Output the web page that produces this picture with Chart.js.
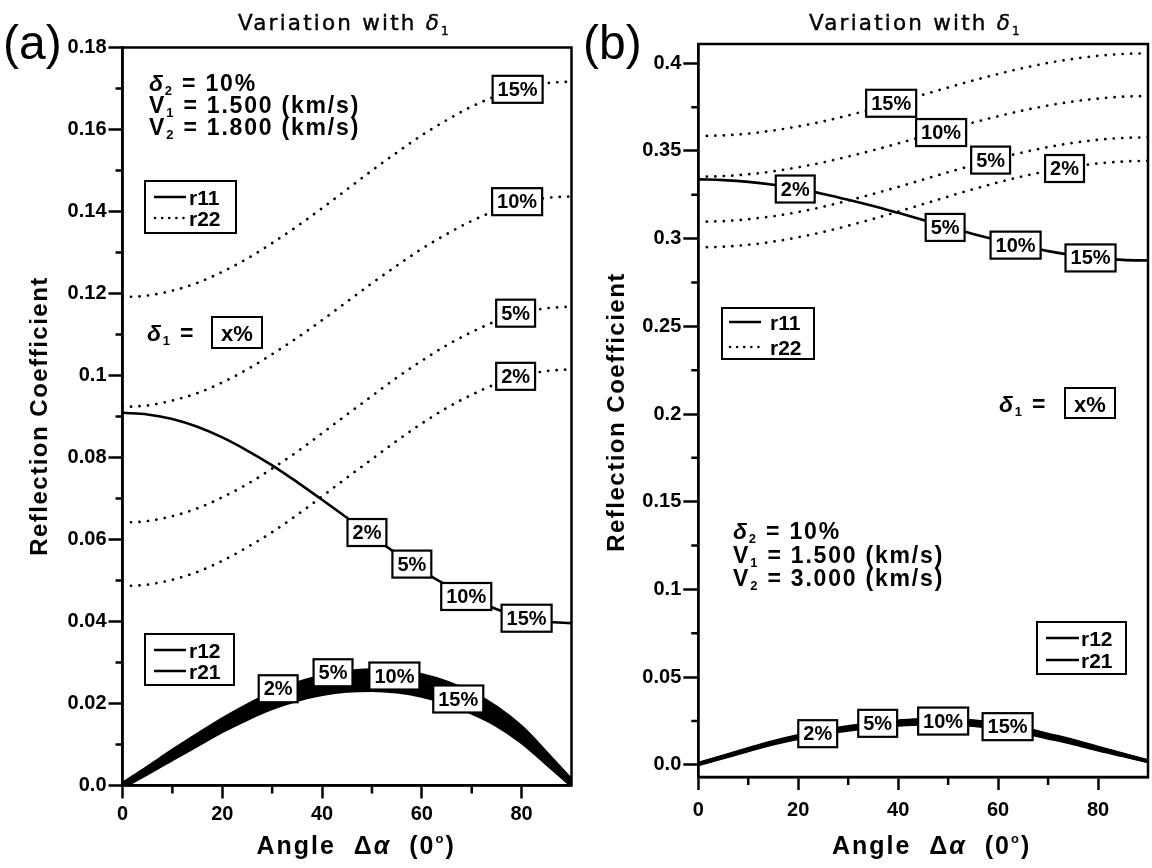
<!DOCTYPE html>
<html><head><meta charset="utf-8">
<script src="https://cdn.jsdelivr.net/npm/chart.js@4.4.0/dist/chart.umd.min.js"></script>
<style>
html,body{margin:0;padding:0;background:#fff;}
#wrap{position:relative;width:1152px;height:868px;overflow:hidden;}
canvas{position:absolute;top:0;}
#ca{left:0;} #cb{left:580px;}
#ov{position:absolute;left:0;top:0;pointer-events:none;font-family:"Liberation Sans",Arial,sans-serif;}
</style></head><body>
<div id="wrap">
<canvas id="ca" width="580" height="868" style="width:580px;height:868px"></canvas>
<canvas id="cb" width="572" height="868" style="width:572px;height:868px"></canvas>
<svg id="ov" width="1152" height="868" xmlns="http://www.w3.org/2000/svg">
 <g fill="#000">
  <!-- panel letters -->
  <text x="3" y="59" font-size="48">(a)</text>
  <text x="583" y="59" font-size="48">(b)</text>
  <!-- titles -->
  <g font-family="'DejaVu Sans', 'Liberation Sans', Arial, sans-serif" font-size="21.5" letter-spacing="2.2" stroke="#000" stroke-width="0.4">
   <text x="238" y="30">Variation with <tspan font-style="italic">δ</tspan><tspan font-size="12" dy="5">1</tspan></text>
   <text x="809" y="30">Variation with <tspan font-style="italic">δ</tspan><tspan font-size="12" dy="5">1</tspan></text>
  </g>
  <!-- y titles -->
  <text transform="translate(47,416) rotate(-90)" text-anchor="middle" font-size="24" font-weight="bold" letter-spacing="1.5">Reflection Coefficient</text>
  <text transform="translate(623.5,412) rotate(-90)" text-anchor="middle" font-size="24" font-weight="bold" letter-spacing="1.5">Reflection Coefficient</text>
  <!-- x titles -->
  <text x="256.5" y="854" font-size="25" font-weight="bold" letter-spacing="2" xml:space="preserve">Angle  Δ<tspan font-style="italic">α</tspan>  (0<tspan font-size="13" dy="-11">o</tspan><tspan dy="11">)</tspan></text>
  <text x="832" y="854" font-size="25" font-weight="bold" letter-spacing="2" xml:space="preserve">Angle  Δ<tspan font-style="italic">α</tspan>  (0<tspan font-size="13" dy="-11">o</tspan><tspan dy="11">)</tspan></text>
  <!-- parameters -->
  <g font-size="23" font-weight="bold" letter-spacing="1.8" xml:space="preserve">
   <text x="149" y="91"><tspan font-style="italic">δ</tspan><tspan font-size="13" dy="4">2</tspan><tspan dy="-4">  =  10%</tspan></text>
   <text x="149" y="113">V<tspan font-size="13" dy="4">1</tspan><tspan dy="-4">  =  1.500  (km/s)</tspan></text>
   <text x="149" y="135">V<tspan font-size="13" dy="4">2</tspan><tspan dy="-4">  =  1.800  (km/s)</tspan></text>
   <text x="733" y="539"><tspan font-style="italic">δ</tspan><tspan font-size="13" dy="4">2</tspan><tspan dy="-4">  =  10%</tspan></text>
   <text x="733" y="563">V<tspan font-size="13" dy="4">1</tspan><tspan dy="-4">  =  1.500  (km/s)</tspan></text>
   <text x="733" y="586">V<tspan font-size="13" dy="4">2</tspan><tspan dy="-4">  =  3.000  (km/s)</tspan></text>
   <text x="147" y="341"><tspan font-style="italic">δ</tspan><tspan font-size="13" dy="4">1</tspan><tspan dy="-4">  =</tspan></text>
   <text x="999" y="412"><tspan font-style="italic">δ</tspan><tspan font-size="13" dy="4">1</tspan><tspan dy="-4">  =</tspan></text>
  </g>
  <rect x="212" y="317" width="50" height="31" fill="#fff" stroke="#000" stroke-width="2"/>
  <text x="237" y="340.5" font-size="22" font-weight="bold" text-anchor="middle">x%</text>
  <rect x="1065" y="388" width="50" height="30" fill="#fff" stroke="#000" stroke-width="2"/>
  <text x="1090" y="411.5" font-size="22" font-weight="bold" text-anchor="middle">x%</text>
  <!-- legends -->
  <g font-size="21" font-weight="bold">
   <rect x="145" y="181" width="91" height="52" fill="#fff" stroke="#000" stroke-width="2"/>
   <line x1="154" y1="197" x2="186" y2="197" stroke="#000" stroke-width="2.5"/>
   <line x1="155" y1="218" x2="186" y2="218" stroke="#000" stroke-width="2.5" stroke-dasharray="0.1 7" stroke-linecap="round"/>
   <text x="189" y="204.5">r11</text><text x="189" y="225.5">r22</text>

   <rect x="145" y="634" width="89" height="51" fill="#fff" stroke="#000" stroke-width="2"/>
   <line x1="154" y1="650" x2="186" y2="650" stroke="#000" stroke-width="2.5"/>
   <line x1="154" y1="671" x2="186" y2="671" stroke="#000" stroke-width="2.5"/>
   <text x="189" y="657.5">r12</text><text x="189" y="678.5">r21</text>

   <rect x="722" y="308" width="92" height="51" fill="#fff" stroke="#000" stroke-width="2"/>
   <line x1="729" y1="322" x2="761" y2="322" stroke="#000" stroke-width="2.5"/>
   <line x1="730" y1="347" x2="761" y2="347" stroke="#000" stroke-width="2.5" stroke-dasharray="0.1 7" stroke-linecap="round"/>
   <text x="770" y="329.5">r11</text><text x="770" y="354.5">r22</text>

   <rect x="1037" y="622" width="89" height="52" fill="#fff" stroke="#000" stroke-width="2"/>
   <line x1="1046" y1="638" x2="1079" y2="638" stroke="#000" stroke-width="2.5"/>
   <line x1="1046" y1="660" x2="1079" y2="660" stroke="#000" stroke-width="2.5"/>
   <text x="1081" y="645.5">r12</text><text x="1081" y="667.5">r21</text>
  </g>
 </g>
</svg>
</div>
<script>
// ---------------- data ----------------
const angles = [0,5,10,15,20,25,30,35,40,45,50,55,60,65,70,75,80,85,90];

// panel (a): V1 = 1.5, V2 = 1.8
const r11A   = [0.0909,0.0905,0.0894,0.0875,0.0849,0.0817,0.0781,0.0740,0.0697,0.0653,0.0608,0.0565,0.0524,0.0488,0.0456,0.0430,0.0411,0.0400,0.0396];
const r22A15 = [0.1191,0.1195,0.1207,0.1226,0.1253,0.1285,0.1323,0.1364,0.1408,0.1454,0.1500,0.1544,0.1586,0.1623,0.1656,0.1682,0.1701,0.1713,0.1717];
const r22A10 = [0.0923,0.0927,0.0939,0.0957,0.0983,0.1015,0.1052,0.1092,0.1135,0.1180,0.1225,0.1268,0.1309,0.1345,0.1377,0.1403,0.1422,0.1433,0.1437];
const r22A5  = [0.0641,0.0645,0.0657,0.0676,0.0703,0.0735,0.0773,0.0814,0.0859,0.0905,0.0950,0.0995,0.1036,0.1074,0.1106,0.1133,0.1152,0.1164,0.1168];
const r22A2  = [0.0486,0.0490,0.0502,0.0521,0.0548,0.0581,0.0618,0.0660,0.0705,0.0751,0.0796,0.0841,0.0883,0.0921,0.0953,0.0980,0.0999,0.1011,0.1015];
const r12A_1 = [0,0.0033,0.0068,0.0102,0.0136,0.0166,0.0192,0.0212,0.0226,0.0234,0.0236,0.0232,0.0222,0.0205,0.0181,0.0151,0.0110,0.0058,0.0005];
const r12A_2 = [0,0.0035,0.0072,0.0108,0.0143,0.0175,0.0202,0.0223,0.0238,0.0247,0.0250,0.0247,0.0237,0.0219,0.0195,0.0163,0.0119,0.0063,0.0006];
const r21A_1 = [0,0.0038,0.0077,0.0114,0.0151,0.0183,0.0212,0.0235,0.0251,0.0261,0.0264,0.0261,0.0251,0.0234,0.0208,0.0174,0.0129,0.0069,0.0007];
const r21A_2 = [0,0.0040,0.0081,0.0120,0.0158,0.0192,0.0222,0.0246,0.0263,0.0274,0.0278,0.0276,0.0266,0.0248,0.0222,0.0186,0.0138,0.0074,0.0008];

// panel (b): V1 = 1.5, V2 = 3.0
const r11B   = [0.3338,0.3334,0.3324,0.3307,0.3284,0.3255,0.3222,0.3186,0.3147,0.3107,0.3066,0.3027,0.2991,0.2958,0.2929,0.2906,0.2889,0.2879,0.2875];
const r22B15 = [0.3585,0.3589,0.3599,0.3617,0.3640,0.3669,0.3703,0.3740,0.3780,0.3821,0.3862,0.3902,0.3939,0.3973,0.4002,0.4025,0.4043,0.4053,0.4057];
const r22B10 = [0.3353,0.3357,0.3367,0.3384,0.3407,0.3435,0.3468,0.3504,0.3543,0.3583,0.3623,0.3662,0.3698,0.3731,0.3759,0.3782,0.3799,0.3810,0.3813];
const r22B5  = [0.3096,0.3100,0.3111,0.3128,0.3152,0.3182,0.3217,0.3255,0.3295,0.3337,0.3379,0.3419,0.3458,0.3492,0.3522,0.3546,0.3564,0.3574,0.3578];
const r22B2  = [0.2950,0.2954,0.2965,0.2983,0.3008,0.3038,0.3074,0.3113,0.3154,0.3197,0.3240,0.3282,0.3321,0.3356,0.3386,0.3411,0.3429,0.3440,0.3444];
const r12B_1 = [0.0000,0.0040,0.0080,0.0118,0.0150,0.0176,0.0197,0.0214,0.0226,0.0232,0.0232,0.0224,0.0207,0.0183,0.0152,0.0120,0.0084,0.0051,0.0017];
const r12B_2 = [0.0003,0.0043,0.0084,0.0123,0.0155,0.0182,0.0204,0.0221,0.0234,0.0241,0.0241,0.0233,0.0216,0.0191,0.0159,0.0127,0.0089,0.0054,0.0019];
const r21B_1 = [0.0005,0.0047,0.0088,0.0127,0.0161,0.0188,0.0210,0.0229,0.0242,0.0249,0.0249,0.0241,0.0224,0.0199,0.0167,0.0133,0.0095,0.0058,0.0021];
const r21B_2 = [0.0008,0.0050,0.0092,0.0132,0.0166,0.0194,0.0217,0.0236,0.0250,0.0258,0.0258,0.0250,0.0233,0.0207,0.0174,0.0140,0.0100,0.0061,0.0023];

// tick values and labels
const xTicks      = [0,20,40,60,80];
const xTickLabels = ['0','20','40','60','80'];
const xMinor      = [10,30,50,70];
const yTicksA      = [0,0.02,0.04,0.06,0.08,0.1,0.12,0.14,0.16,0.18];
const yTickLabelsA = ['0.0','0.02','0.04','0.06','0.08','0.1','0.12','0.14','0.16','0.18'];
const yMinorA      = [0.01,0.03,0.05,0.07,0.09,0.11,0.13,0.15,0.17];
const yTicksB      = [0,0.05,0.1,0.15,0.2,0.25,0.3,0.35,0.4];
const yTickLabelsB = ['0.0','0.05','0.1','0.15','0.2','0.25','0.3','0.35','0.4'];
const yMinorB      = [0.025,0.075,0.125,0.175,0.225,0.275,0.325,0.375];

// curve label boxes (δ1 values), positioned in data units
const boxTextA  = ['15%','10%','5%','2%', '2%','5%','10%','15%', '2%','5%','10%','15%'];
const boxAngleA = [79.2,79.1,78.8,78.8, 49.0,58.0,68.9,81.0, 31.2,42.2,54.5,67.3];
const boxValueA = [0.1698,0.1424,0.1152,0.0998, 0.0617,0.0540,0.0461,0.0408, 0.0236,0.0275,0.0267,0.0211];
const boxTextB  = ['15%','10%','5%','2%', '2%','5%','10%','15%', '2%','5%','10%','15%'];
const boxAngleB = [38.6,48.6,58.5,73.3, 19.4,49.4,63.5,78.5, 23.9,35.9,49.0,61.9];
const boxValueB = [0.3772,0.3605,0.3448,0.3400, 0.3283,0.3064,0.2963,0.2890, 0.0177,0.0236,0.0249,0.0217];

// ---------------- drawing ----------------
const FONT = '"Liberation Sans", Arial, sans-serif';
const pts = arr => angles.map((a,i)=>({x:a, y:arr[i]}));
const dotted = arr => ({data:pts(arr), borderColor:'#000', borderWidth:2.7, borderDash:[0.1,8.4], borderCapStyle:'round', pointRadius:0, cubicInterpolationMode:'monotone', fill:false});
const solid = (arr,w) => ({data:pts(arr), borderColor:'#000', borderWidth:w, pointRadius:0, cubicInterpolationMode:'monotone', fill:false});

function decor(boxText, boxAngle, boxValue, yMinor){
  return {
    id:'decor',
    afterDatasetsDraw(chart){
      const {ctx, chartArea:a, scales:{x,y}} = chart;
      ctx.save();
      ctx.font = 'bold 20px ' + FONT;
      ctx.textAlign = 'center'; ctx.textBaseline = 'middle';
      boxText.forEach((t,i)=>{
        const px = x.getPixelForValue(boxAngle[i]), py = y.getPixelForValue(boxValue[i]);
        const w = ctx.measureText(t).width + 10, h = 27;
        ctx.fillStyle = '#fff'; ctx.fillRect(px-w/2, py-h/2, w, h);
        ctx.lineWidth = 2.2; ctx.strokeStyle = '#000'; ctx.strokeRect(px-w/2, py-h/2, w, h);
        ctx.fillStyle = '#000'; ctx.fillText(t, px, py+1);
      });
      ctx.lineWidth = 2.5; ctx.strokeStyle = '#000';
      ctx.strokeRect(a.left, a.top, a.right-a.left, a.bottom-a.top);
      ctx.beginPath();
      yMinor.forEach(v=>{const py=y.getPixelForValue(v); ctx.moveTo(a.left, py); ctx.lineTo(a.left-7, py);});
      xMinor.forEach(v=>{const px=x.getPixelForValue(v); ctx.moveTo(px, a.bottom); ctx.lineTo(px, a.bottom+8);});
      ctx.stroke();
      ctx.restore();
    }
  };
}

function makeChart(id, datasets, cfg){
  return new Chart(document.getElementById(id), {
    type:'line',
    data:{datasets},
    options:{
      responsive:false, animation:false, devicePixelRatio:1,
      layout:{padding:cfg.padding},
      plugins:{legend:{display:false}, tooltip:{enabled:false}, title:{display:false}},
      scales:{
        x:{type:'linear', min:0, max:90,
           afterBuildTicks:s=>{s.ticks = xTicks.map(v=>({value:v}));},
           afterFit:s=>{s.height = 40;},
           ticks:{autoSkip:false, maxRotation:0, color:'#000', padding:cfg.xPad, font:{family:FONT, size:20, weight:'bold'},
                  callback:v=>xTickLabels[xTicks.indexOf(v)]},
           grid:{drawOnChartArea:false, tickLength:13, tickWidth:2.5, tickColor:'#000'},
           border:{display:true, width:2.5, color:'#000'}},
        y:{type:'linear', min:cfg.ymin, max:cfg.ymax,
           afterBuildTicks:s=>{s.ticks = cfg.yTicks.map(v=>({value:v}));},
           afterFit:s=>{s.width = cfg.yWidth;},
           ticks:{autoSkip:false, color:'#000', padding:2, font:{family:FONT, size:20, weight:'bold'},
                  callback:v=>cfg.yLabels[cfg.yTicks.indexOf(v)]},
           grid:{drawOnChartArea:false, tickLength:cfg.tickLen, tickWidth:2.5, tickColor:'#000'},
           border:{display:true, width:2.5, color:'#000'}}
      }
    },
    plugins:[decor(cfg.boxText, cfg.boxAngle, cfg.boxValue, cfg.yMinor)]
  });
}

makeChart('ca', [
  dotted(r22A15), dotted(r22A10), dotted(r22A5), dotted(r22A2),
  solid(r11A,2.6),
  solid(r12A_1,6.5), solid(r12A_2,6.5), solid(r21A_1,6.5), solid(r21A_2,6.5)
], {padding:{left:0, top:47.5, right:8.5, bottom:42.5}, yWidth:122.5, ymin:0, ymax:0.18,
    yTicks:yTicksA, yLabels:yTickLabelsA, yMinor:yMinorA, tickLen:14, xPad:4,
    boxText:boxTextA, boxAngle:boxAngleA, boxValue:boxValueA});

makeChart('cb', [
  dotted(r22B15), dotted(r22B10), dotted(r22B5), dotted(r22B2),
  solid(r11B,2.6),
  solid(r12B_1,3.2), solid(r12B_2,3.2), solid(r21B_1,3.2), solid(r21B_2,3.2)
], {padding:{left:0, top:44, right:4, bottom:51}, yWidth:118.3, ymin:-0.007, ymax:0.411,
    yTicks:yTicksB, yLabels:yTickLabelsB, yMinor:yMinorB, tickLen:15, xPad:8,
    boxText:boxTextB, boxAngle:boxAngleB, boxValue:boxValueB});
</script>
</body></html>
